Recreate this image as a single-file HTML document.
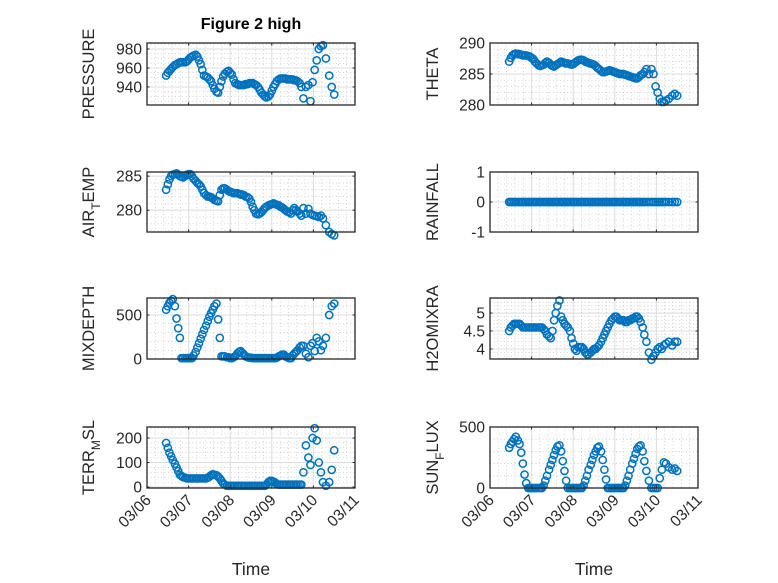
<!DOCTYPE html>
<html><head><meta charset="utf-8"><style>
html,body{margin:0;padding:0;background:#fff;}
svg{display:block;font-family:"Liberation Sans","DejaVu Sans",sans-serif;}
</style></head><body>
<svg id="fig" width="778" height="583" viewBox="0 0 778 583">
<rect width="778" height="583" fill="#fff"/>
<text x="251" y="29" text-anchor="middle" font-size="16" font-weight="bold" fill="#000">Figure 2 high</text>
</svg>
<script>
const times = [0.46,0.50,0.54,0.58,0.62,0.67,0.71,0.75,0.79,0.83,0.87,0.92,
0.96,1.00,1.04,1.08,1.12,1.17,1.21,1.25,1.29,1.33,1.37,1.42,
1.46,1.50,1.54,1.58,1.62,1.67,1.71,1.75,1.79,1.83,1.87,1.92,
1.96,2.00,2.04,2.08,2.12,2.17,2.21,2.25,2.29,2.33,2.37,2.42,
2.46,2.50,2.54,2.58,2.62,2.67,2.71,2.75,2.79,2.83,2.87,2.92,
2.96,3.00,3.04,3.08,3.12,3.17,3.21,3.25,3.29,3.33,3.37,3.42,
3.46,3.50,3.54,3.58,3.62,3.67,3.71,
3.76,3.82,3.88,3.93,3.98,4.03,4.08,4.13,4.18,4.23,4.3,4.38,4.44,4.5];
const dayLabels = ["03/06","03/07","03/08","03/09","03/10","03/11"];
const pressure = [952,955,957,959,961,963,964,965,966,966,966,966,
967,969,971,972,973,974,972,968,964,958,952,951,
950,948,946,942,938,935,934,940,946,951,954,956,
957,955,953,948,944,943,942,942,942,942,943,943,
944,944,944,943,942,940,937,934,932,930,929,930,
932,936,940,943,946,948,949,949,949,949,948,948,
948,948,947,947,946,944,940,
928,940,942,925,945,958,968,980,983,984,970,952,940,932];
const airTemp = [283,283.8,284.5,285,285.2,285.3,285.4,285.2,285,284.9,284.8,285,
285.2,285.3,285.3,285,284.6,284.3,284,283.8,283.5,283,282.5,282.2,
282,282,281.9,281.7,281.5,281.4,281.3,282.2,283,283.2,283.2,283,
282.8,282.7,282.6,282.5,282.5,282.5,282.4,282.3,282.3,282.2,282,281.9,
281.7,281.2,280.5,280,279.5,279.4,279.5,279.7,280,280.3,280.5,280.7,
280.8,280.9,281,280.9,280.8,280.7,280.5,280.4,280.2,280,279.8,279.7,
279.5,280,280.3,280,279.8,279.5,279.2,
280.3,279.5,280.2,279.5,279.3,279.2,279.1,279,279.2,278.8,277.8,276.8,276.5,276.3];
const mixDepth = [560,600,640,660,680,600,460,350,240,10,10,10,
10,10,10,10,40,80,130,180,230,280,330,380,
430,480,520,560,600,630,450,240,30,30,30,20,
20,10,10,20,30,60,80,90,70,50,30,20,
15,15,10,10,10,10,10,10,10,10,10,10,
10,10,10,10,15,30,40,50,50,30,20,10,
10,40,60,80,100,130,150,
150,60,20,150,180,90,240,200,100,150,240,500,600,630];
const terrMsl = [180,160,140,125,110,95,80,65,50,45,40,38,
35,35,35,35,35,35,35,35,35,35,35,35,
38,42,48,52,50,48,42,35,25,15,10,5,
5,5,5,5,5,5,5,5,5,5,5,5,
5,5,5,5,5,5,5,5,5,5,10,20,
25,25,22,18,12,10,10,10,10,10,10,10,
10,10,10,10,10,10,10,
60,170,120,90,200,240,190,100,60,20,5,20,70,150];
const theta = [287,287.6,288,288.2,288.3,288.2,288.2,288.1,288,288,288,287.9,
287.8,287.6,287.4,287,286.7,286.4,286.3,286.4,286.5,286.8,287,286.8,
286.5,286.3,286.2,286.4,286.6,286.8,287,286.9,286.8,286.7,286.7,286.6,
286.5,286.6,286.8,287,287.2,287.3,287.3,287.2,287,286.9,286.8,286.7,
286.6,286.5,286.3,286,285.8,285.5,285.3,285.3,285.4,285.5,285.6,285.5,
285.4,285.3,285.2,285.1,285,285,285,284.9,284.8,284.7,284.6,284.5,
284.4,284.3,284.3,284.5,284.8,285,285.3,
285.8,285,285.8,285,283,282,281,280.5,280.5,280.7,281,281.5,281.8,281.5];
const rainfall = [0,0,0,0,0,0,0,0,0,0, 0,0,0,0,0,0,0,0,0,0, 0,0,0,0,0,0,0,0,0,0,
0,0,0,0,0,0,0,0,0,0, 0,0,0,0,0,0,0,0,0,0, 0,0,0,0,0,0,0,0,0,0,
0,0,0,0,0,0,0,0,0,0, 0,0,0,0,0,0,0,0,0,0, 0,0,0,0,0,0,0,0,0,0, 0,0,0];
const h2o = [4.5,4.6,4.65,4.7,4.7,4.7,4.7,4.65,4.6,4.6,4.6,4.6,
4.6,4.6,4.6,4.6,4.6,4.6,4.6,4.6,4.55,4.5,4.4,4.35,
4.3,4.5,4.8,5.0,5.2,5.35,4.9,4.8,4.7,4.65,4.6,4.5,
4.3,4.15,4.0,3.95,4.05,4.05,4.05,4.0,3.9,3.85,3.85,3.9,
3.95,4.0,4.0,4.05,4.1,4.2,4.3,4.4,4.5,4.6,4.7,4.8,
4.85,4.9,4.9,4.85,4.8,4.8,4.8,4.75,4.75,4.8,4.8,4.85,
4.85,4.9,4.9,4.85,4.75,4.6,4.4,
4.2,3.9,3.7,3.8,3.9,4.0,4.05,4.0,4.1,4.15,4.2,4.1,4.2,4.2];
const sunFlux = [330,360,380,400,420,390,360,290,200,110,40,0,
0,0,0,0,0,0,0,0,20,60,100,150,
190,230,270,310,340,350,300,220,140,60,0,0,
0,0,0,0,0,0,0,20,60,100,150,190,
230,270,300,330,340,300,230,150,70,0,0,0,
0,0,0,0,0,0,0,20,60,100,150,200,
240,280,320,340,350,300,220,
140,60,0,0,0,0,80,150,210,200,170,150,160,140];

const NS = "http://www.w3.org/2000/svg";
const svg = document.getElementById("fig");
function el(tag, attrs, parent) {
  const e = document.createElementNS(NS, tag);
  for (const k in attrs) e.setAttribute(k, attrs[k]);
  (parent || svg).appendChild(e);
  return e;
}
const panels = [
  {name:"pressure", data:pressure, x0:147, y0:43, y1:105, ymin:921, ymax:986.3, ticks:[940,960,980], minor:5, label:["PRESSURE"], col:0},
  {name:"air-temp", data:airTemp, x0:147, y0:172, y1:232, ymin:276.8, ymax:285.6, ticks:[280,285], minor:1, label:["AIR","T","EMP"], col:0},
  {name:"mixdepth", data:mixDepth, x0:147, y0:298, y1:359, ymin:0, ymax:693, ticks:[0,500], minor:100, label:["MIXDEPTH"], col:0},
  {name:"terr-msl", data:terrMsl, x0:147, y0:427, y1:488, ymin:-4, ymax:245, ticks:[0,100,200], minor:20, label:["TERR","M","SL"], col:0, xt:true},
  {name:"theta", data:theta, x0:490, y0:43, y1:105, ymin:280, ymax:290, ticks:[280,285,290], minor:1, label:["THETA"], col:1},
  {name:"rainfall", data:rainfall, x0:490, y0:172, y1:232, ymin:-1, ymax:1, ticks:[-1,0,1], minor:0.2, label:["RAINFALL"], col:1},
  {name:"h2omixra", data:h2o, x0:490, y0:298, y1:359, ymin:3.72, ymax:5.42, ticks:[4,4.5,5], minor:0.1, label:["H2OMIXRA"], col:1},
  {name:"sun-flux", data:sunFlux, x0:490, y0:427, y1:488, ymin:0, ymax:500, ticks:[0,500], minor:100, label:["SUN","F","LUX"], col:1, xt:true}
];
const W = 208;
panels.forEach(p => {
  const g = el("g", {});
  
  
  const xs = d => p.x0 + d / 5 * W;
  const ys = v => p.y1 - (v - p.ymin) / (p.ymax - p.ymin) * (p.y1 - p.y0);
  for (let d = 0; d < 5; d += 0.2) {
    if (Math.abs(d - Math.round(d)) < 1e-6) continue;
    el("line", {x1:xs(d), x2:xs(d), y1:p.y0, y2:p.y1, stroke:"#b8b8b8", "stroke-width":0.6, "stroke-dasharray":"1,2.5"}, g);
  }
  const mstart = Math.ceil(p.ymin / p.minor) * p.minor;
  for (let v = mstart; v <= p.ymax + 1e-9; v += p.minor) {
    el("line", {x1:p.x0, x2:p.x0 + W, y1:ys(v), y2:ys(v), stroke:"#b8b8b8", "stroke-width":0.6, "stroke-dasharray":"1,2.5"}, g);
  }
  for (let d = 1; d < 5; d++) el("line", {x1:xs(d), x2:xs(d), y1:p.y0, y2:p.y1, stroke:"#dcdcdc", "stroke-width":1}, g);
  p.ticks.forEach(v => el("line", {x1:p.x0, x2:p.x0 + W, y1:ys(v), y2:ys(v), stroke:"#dcdcdc", "stroke-width":1}, g));
  p.data.forEach((v, i) => {
    const c = el("circle", {cx:xs(times[i]), cy:ys(v), r:3.6, fill:"none", stroke:"#0072bd", "stroke-width":1.5}, g);
    
    
  });
  el("rect", {x:p.x0, y:p.y0, width:W, height:p.y1 - p.y0, fill:"none", stroke:"#262626", "stroke-width":1.3}, g);
  for (let d = 0; d <= 5; d++) {
    el("line", {x1:xs(d), x2:xs(d), y1:p.y1, y2:p.y1 - 2.5, stroke:"#262626"}, g);
    el("line", {x1:xs(d), x2:xs(d), y1:p.y0, y2:p.y0 + 2.5, stroke:"#262626"}, g);
  }
  p.ticks.forEach(v => {
    el("line", {x1:p.x0, x2:p.x0 + 2.5, y1:ys(v), y2:ys(v), stroke:"#262626"}, g);
    el("line", {x1:p.x0 + W, x2:p.x0 + W - 2.5, y1:ys(v), y2:ys(v), stroke:"#262626"}, g);
    const t = el("text", {x:p.x0 - 5, y:ys(v) + 5.5, "text-anchor":"end", "font-size":15.5, fill:"#262626"}, g);
    t.textContent = String(v);
    
    
  });
  const lx = p.col === 0 ? 94 : 438;
  const ly = (p.y0 + p.y1) / 2;
  const yl = el("text", {x:lx, y:ly, "text-anchor":"middle", "font-size":16.5, fill:"#262626", transform:"rotate(-90 " + lx + " " + ly + ")"}, g);
  
  
  if (p.label.length === 1) yl.textContent = p.label[0];
  else {
    const a = el("tspan", {}, yl); a.textContent = p.label[0];
    const b = el("tspan", {dy:6, "font-size":12}, yl); b.textContent = p.label[1];
    const c = el("tspan", {dy:-6}, yl); c.textContent = p.label[2];
  }
  if (p.xt) {
    dayLabels.forEach((s, d) => {
      const tx = xs(d) + 5, ty = p.y1 + 13;
      const t = el("text", {x:tx, y:ty, "text-anchor":"end", "font-size":15.5, fill:"#262626", transform:"rotate(-45 " + tx + " " + ty + ")"}, g);
      t.textContent = s;
      
      
    });
    const xt = el("text", {x:p.x0 + W / 2, y:575, "text-anchor":"middle", "font-size":17.5, fill:"#262626"}, g);
    xt.textContent = "Time";
    
    
  }
});
</script>
</body></html>
